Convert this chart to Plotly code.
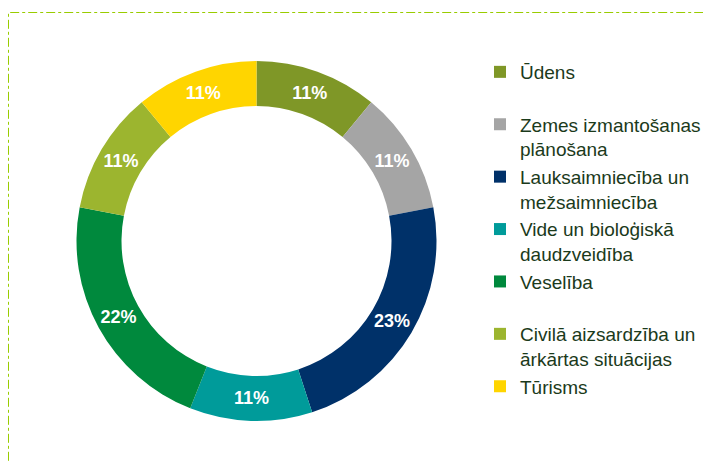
import plotly.graph_objects as go

categories = [
    "Ūdens<br> ",
    "Zemes izmantošanas<br>plānošana",
    "Lauksaimniecība un<br>mežsaimniecība",
    "Vide un bioloģiskā<br>daudzveidība",
    "Veselība<br> ",
    "Civilā aizsardzība un<br>ārkārtas situācijas",
    "Tūrisms",
]
values = [11, 11, 23, 11, 22, 11, 11]
colors = ["#7F9727", "#A5A5A5", "#003169", "#009B9A", "#00893D", "#9CB52F", "#FFD500"]

W, H = 711, 462
OFF = 8  # page body margin
cx, cy, R = 256.5 - OFF, 241 - OFF, 180

fig = go.Figure(
    go.Pie(
        labels=categories,
        values=values,
        hole=0.75,
        sort=False,
        direction="clockwise",
        rotation=0,
        marker=dict(colors=colors, line=dict(width=0)),
        texttemplate="%{percent:.0%}",
        textposition="inside",
        insidetextorientation="horizontal",
        textfont=dict(family="Liberation Sans, Arial", size=18, color="white", weight="bold"),
        domain=dict(
            x=[(cx - R) / W, (cx + R) / W],
            y=[(H - cy - R) / H, (H - cy + R) / H],
        ),
    )
)

fig.update_layout(
    width=W,
    height=H,
    margin=dict(l=0, r=0, t=0, b=0),
    paper_bgcolor="white",
    plot_bgcolor="white",
    showlegend=True,
    legend=dict(
        x=(480 - OFF) / W,
        xanchor="left",
        y=(H - (53 - OFF)) / H,
        yanchor="top",
        valign="top",
        font=dict(family="Liberation Sans, Arial", size=19, color="#1B3A1B"),
        itemwidth=30,
        traceorder="normal",
    ),
    shapes=[
        dict(
            type="rect",
            xref="paper",
            yref="paper",
            x0=(8.5 - OFF) / W,
            x1=1.05,
            y0=-0.05,
            y1=(H - (12.5 - OFF)) / H,
            line=dict(color="#99CC00", width=1, dash="dashdot"),
            fillcolor="rgba(0,0,0,0)",
        )
    ],
)

fig.write_html("out.html")
